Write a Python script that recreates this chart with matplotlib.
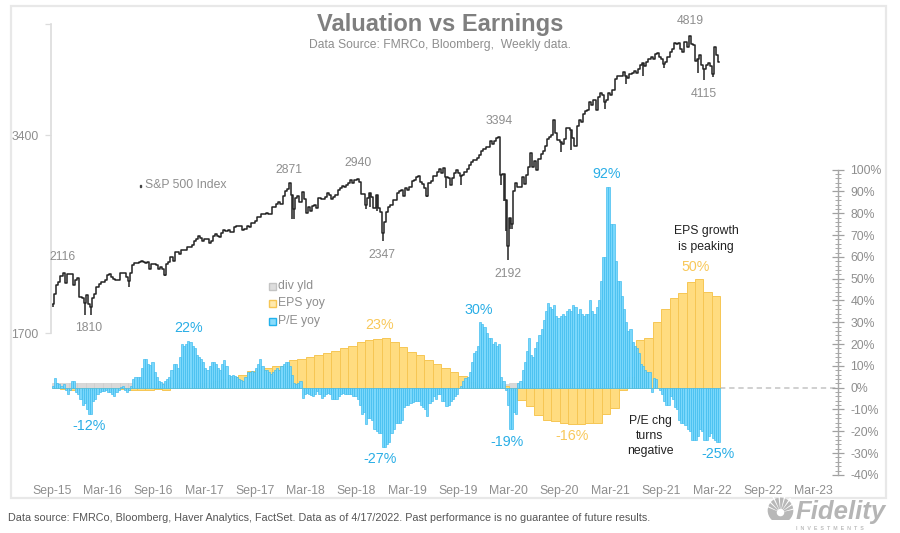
import numpy as np
import matplotlib
matplotlib.use("Agg")
import matplotlib.pyplot as plt
from matplotlib.patches import Rectangle, Circle, Wedge
from matplotlib.ticker import FixedLocator, FixedFormatter, NullFormatter, FuncFormatter

plt.rcParams['font.family'] = ['Liberation Sans', 'DejaVu Sans']

W, H = 900, 533
x_labels = ['Sep-15','Mar-16','Sep-16','Mar-17','Sep-17','Mar-18','Sep-18','Mar-19',
            'Sep-19','Mar-20','Sep-20','Mar-21','Sep-21','Mar-22','Sep-22','Mar-23']

# weekly S&P 500 level
sp500 = [1880,1950,2010,2030, 2075,2100,2025,2090, 2090,2090,2010,2050, 2060,1925,1920,1890,
         1940,1880,1865,1920, 1950,2000,2020,2035, 2035,2050,2080,2090, 2065,2055,2045,2050,
         2095,2100,2095,2070, 2037,2100,2160,2175, 2173,2180,2185,2180, 2170,2180,2125,2165,
         2165,2155,2130,2140, 2125,2085,2165,2180, 2215,2190,2260,2260, 2245,2275,2275,2270,
         2295,2295,2315,2350, 2365,2385,2370,2345, 2365,2360,2330,2350, 2385,2400,2390,2380,
         2415,2440,2430,2435, 2425,2425,2460,2470, 2470,2475,2440,2445, 2475,2465,2500,2500,
         2520,2550,2555,2575, 2580,2585,2580,2580, 2640,2640,2675,2685, 2675,2745,2790,2810,
         2870,2760,2620,2730, 2745,2690,2785,2715, 2590,2640,2605,2655, 2665,2630,2725,2715,
         2720,2735,2780,2755, 2720,2735,2760,2800, 2820,2840,2835,2850, 2875,2900,2870,2905,
         2915,2885,2765,2770, 2660,2725,2780,2735, 2635,2760,2630,2600, 2415,2510,2595,2640,
         2665,2705,2710,2775, 2790,2800,2745,2820, 2800,2835,2890,2905, 2940,2945,2880,2860,
         2825,2750,2875,2890, 2950,2945,2990,3015, 2975,3025,2930,2920, 2850,2925,2980,3005,
         2980,2950,2960,2985, 3020,3065,3095,3120, 3110,3140,3170,3220, 3240,3255,3265,3330,
         3295,3325,3370,3380, 2955,2970,2710,2305, 2540,2490,2790,2875, 2835,2830,2930,2865,
         2955,3040,3195,3040, 3100,3010,3130,3185, 3215,3270,3350,3375, 3400,3580,3425,3340,
         3320,3300,3350,3480, 3480,3465,3370,3270, 3510,3585,3555,3665, 3700,3710,3820,3770,
         3840,3715,3890,3935, 3905,3810,3840,3940, 3915,3975,4130,4185, 4185,4180,4235,4175,
         4155,4205,4230,4250, 4225,4280,4350,4370, 4330,4395,4435,4470, 4440,4510,4535,4460,
         4440,4355,4390,4470, 4545,4600,4700,4680, 4700,4595,4540,4710, 4620,4800,4675,4660,
         4400,4430,4500,4350, 4290,4350,4380,4330, 4210,4620,4500,4392]
# weekly lows that stick out below the close
sp_dip_idx = [0, 15, 18, 36, 53, 113, 114, 148, 150, 153, 156, 177, 186, 193, 212, 213, 214, 215, 216, 217,
              240, 245, 261, 271, 279, 289, 305, 308, 312]
sp_dip_low = [1865, 1812, 1810, 1995, 2075, 2530, 2530, 2620, 2640, 2605, 2347, 2740, 2820, 2850, 2855, 2700, 2430, 2192,
              2450, 2450, 3200, 3230, 3720, 4060, 4180, 4300, 4222, 4115, 4160]

# weekly P/E yoy (%)
pe_yoy = [1,4.5,2,1.5, 1,1.5,-1,-3, -1,3,3,-2, -3,-5,-8,-7, -10,-12,-12,-6, -5,-3,-2,-1.5,
          -1.5,-1,-2,-2, -3,-4,-2,-1, 0.5,1,-1,-2, -1,1,4,5, 5,5,9,13, 13,11,10.5,12,
          7,5,3,2.5, 1.5,3,4,5, 8,11,11,9, 14,20,19,20, 21.5,21,19,18, 15,14,13,12,
          9,8,10,12, 12,11,9,8, 11,12.5,10,6, 5.5,6,5.5,5, 4,3.5,3,5, 7,7,7.5,7,
          9,11,13,10, 8,8,7,6.5, 7,8,9,8, 10,11,12,12, 10,6,2,1.5, 2,3,-4.5,-3,
          -2.5,-3,-3.5,-4, -3,-1.5,-3,-4.5, -4,-3,-2.5,-3, -5,-5,-5,-4, -3,-2.5,-3,-3, -3,-3,-4,-4,
          -5,-8,-12,-11, -16.5,-14,-14,-15, -19,-20,-21,-21, -27,-27,-26,-25, -21,-19,-16,-16, -16,-15,-9,-8,
          -8,-7,-6.5,-6, -6,-6,-8,-9, -10,-13,-7,-6, -4,-5,-3,-3, -6,-6,-8.5,-8, -6,-5,-4,-3,
          0,1,3,4.5, 5,7,12,16, 17,19,30,29, 28,25,23,23, 20,21,19,20, 5,3,-1,-8,
          -19,-19,-11,-12, 2,3,8,12, 17,23,15,14, 18,21,24,27, 31,35,39,37, 36,38,33,32,
          33,34,33,35, 36,35,38,37, 34,36,34,33, 34,34,40,35, 34,37,40,49, 60,60,92,92,
          75,75,58,49, 49,42,36,30, 26,27,21,19, 18,16,11,10, 8,7,7,-2, 4.5,4,0,-1,
          -3,-6,-8,-8, -4,-5,-9,-10, -15,-16,-16,-17, -19,-20,-24,-24, -24,-22,-19,-20, -24,-24,-22,-21, -23,-24,-25,-25]

# monthly EPS yoy (%)
eps_yoy = [0,-0.5,-1,-1,-1,-0.5,-0.5,-0.5,-0.5,-1,-1,-1,
           -0.5,-1,0,0.5,0.5,1,2,3,4,5,6,7.5,
           8,9,10,10,12.5,13,14,15,16,17,18,19,
           21,22,22.5,23,21,18.5,16.5,15,12.5,10.7,9,7,
           5.5,2.5,1,0.5,0.5,1,-1,-5.5,-8.5,-12.5,-15,-15.5,
           -16,-16.5,-16.5,-16,-16,-12,-9.5,-1,5,22,23,30,
           36,41,43.5,48.5,50,44,42]

# monthly dividend yield (%)
div_yld = [2.1,2.1,2.1,2.2,2.2,2.3,2.2,2.1,2.1,2.1,2.1,2.1,
           2.1,2.1,2.0,2.0,2.0,2.0,1.9,1.9,1.9,1.9,1.9,1.9,
           1.9,1.8,1.8,1.8,1.7,1.8,1.9,1.9,1.9,1.9,1.9,1.9,
           1.8,1.9,1.9,2.1,2.0,1.9,1.9,1.8,1.9,1.9,1.9,1.9,
           1.9,1.9,1.8,1.8,1.8,1.8,2.2,2.0,1.9,1.8,1.7,1.7,
           1.7,1.6,1.6,1.5,1.5,1.5,1.4,1.4,1.4,1.3,1.3,1.3,
           1.3,1.3,1.3,1.3,1.3,1.3,1.3]

GRAY = '#8e8e8e'
BLUE = '#2aaee6'
YEL = '#f8c85a'

fig = plt.figure(figsize=(W/100, H/100), dpi=100, facecolor='white')
def fx(x): return x/W
def fy(y): return 1-y/H
def T(x, y, s, **k):
    k.setdefault('ha', 'center'); k.setdefault('va', 'center')
    k.setdefault('zorder', 6)
    fig.text(fx(x), fy(y), s, **k)

# frame
fig.add_artist(Rectangle((fx(11), fy(498)), fx(874.5), (498-5.5)/H, transform=fig.transFigure,
                         fill=False, ec='#e8e8e8', lw=1.6, zorder=0))

left, right, top, bottom = 51, 838, 24, 475
rect = [fx(left), fy(bottom), fx(right-left), (bottom-top)/H]

# percent panel
ax2 = fig.add_axes(rect, zorder=1)
ax2.patch.set_alpha(0)
ax2.set_xlim((left-52)/8.46, (right-52)/8.46)
ax2.set_ylim(-40.05, (387.7-top)/2.18)
mx = np.arange(len(eps_yoy)) + 0.5
wx = np.arange(len(pe_yoy))*0.25 + 0.125
ax2.bar(mx, div_yld, width=1.0, color='#d9d9d9', edgecolor='#c8c8c8', lw=0.4, zorder=1)
ax2.bar(mx, eps_yoy, width=1.0, color='#ffdc80', edgecolor='#f6c654', lw=0.7, zorder=2)
ax2.bar(wx, pe_yoy, width=0.25, color='#7ad7fb', edgecolor='#38baee', lw=0.45, zorder=3)
ax2.plot([len(eps_yoy), ax2.get_xlim()[1]], [0, 0], color='#c4c4c4', lw=1.1, ls=(0, (3.5, 2.5)), zorder=1)

for s in ['top', 'left', 'bottom']:
    ax2.spines[s].set_visible(False)
ax2.spines['right'].set_color('#a8a8a8')
ax2.spines['right'].set_linewidth(1.0)
ax2.spines['right'].set_bounds(-40, 100)
ax2.yaxis.tick_right()
ax2.yaxis.set_major_locator(FixedLocator(np.arange(-40, 101, 10)))
ax2.yaxis.set_minor_locator(FixedLocator(np.arange(-40, 101, 2)))
ax2.yaxis.set_major_formatter(FuncFormatter(lambda v, p: f'{int(round(v))}%'))
ax2.yaxis.set_minor_formatter(NullFormatter())
ax2.tick_params(axis='y', which='major', direction='inout', length=8, width=0.9, color='#a0a0a0',
                labelcolor=GRAY, labelsize=8.8, pad=5)
ax2.tick_params(axis='y', which='minor', direction='inout', length=4, width=0.7, color='#a8a8a8')
ax2.set_xticks(np.arange(len(x_labels))*6)
ax2.set_xticklabels(x_labels)
ax2.tick_params(axis='x', length=0, labelcolor=GRAY, labelsize=8.8, pad=7)

# S&P panel
ax = fig.add_axes(rect, zorder=2)
ax.patch.set_alpha(0)
ax.set_xlim(ax2.get_xlim())
ax.set_yscale('log', base=2)
ax.set_ylim(1700*2**((333-bottom)/198), 1700*2**((333-top)/198))
sx = np.arange(len(sp500))*0.25 + 0.125
ax.step(sx, sp500, where='mid', color='#222222', lw=1.1, zorder=3)
dx = [sx[i] for i in sp_dip_idx]
dh = [sp500[i] for i in sp_dip_idx]
ax.vlines(dx, sp_dip_low, dh, color='#222222', lw=1.1, zorder=3)
for s in ['top', 'right', 'bottom']:
    ax.spines[s].set_visible(False)
ax.spines['left'].set_color('#dcdcdc')
ax.spines['left'].set_linewidth(1.2)
ax.spines['left'].set_bounds(1700, ax.get_ylim()[1])
ax.yaxis.set_major_locator(FixedLocator([1700, 3400, ax.get_ylim()[1]]))
ax.yaxis.set_major_formatter(FixedFormatter(['1700', '3400', '']))
ax.yaxis.set_minor_locator(FixedLocator([]))
ax.yaxis.set_minor_formatter(NullFormatter())
ax.tick_params(axis='y', length=4, width=0.9, color='#dcdcdc', labelcolor=GRAY, labelsize=8.8, pad=5)
ax.set_xticks([])

# titles
T(440, 24, 'Valuation vs Earnings', color='#7f7f7f', fontsize=17, fontweight='bold')
T(440, 45, 'Data Source: FMRCo, Bloomberg,  Weekly data.', color=GRAY, fontsize=8.7)

# level labels
for x, y, s in [(690,21,'4819'),(704,94,'4115'),(499,121,'3394'),(358,163,'2940'),(289,170,'2871'),
                (382,255,'2347'),(508,274,'2192'),(62,257,'2116'),(89,328,'1810')]:
    T(x, y, s, color=GRAY, fontsize=8.8)
T(145, 185.5, 'S&P 500 Index', color=GRAY, fontsize=8.8, ha='left')
fig.add_artist(Rectangle((fx(139.5), fy(186.5)), fx(1.5), 1.5/H, transform=fig.transFigure, color='#444444', zorder=6))

# legend
for y, s, fc, ec in [(286,'div yld','#dddddd','#c4c4c4'),(303,'EPS yoy','#ffe9ae','#f6c654'),(321,'P/E yoy','#8adcfb','#22b2ec')]:
    fig.add_artist(Rectangle((fx(269), fy(y+3.5)), fx(7), 7/H, transform=fig.transFigure, fc=fc, ec=ec, lw=1.0, zorder=6))
    T(278, y, s, color=GRAY, fontsize=8.8, ha='left')

# percent labels
for x, y, s in [(89,426,'-12%'),(189,328,'22%'),(479,310,'30%'),(607,174,'92%'),(380,459,'-27%'),(507,442,'-19%'),(718,454,'-25%')]:
    T(x, y, s, color=BLUE, fontsize=10.3)
for x, y, s in [(380,325,'23%'),(572,436,'-16%'),(696,267,'50%')]:
    T(x, y, s, color=YEL, fontsize=10.3)
T(706, 239, 'EPS growth\nis peaking', color='#222222', fontsize=8.8, linespacing=1.35)
T(650, 436, 'P/E chg\nturns\nnegative', color='#222222', fontsize=8.8, linespacing=1.35)

# footer
T(8, 518, 'Data source: FMRCo, Bloomberg, Haver Analytics, FactSet. Data as of 4/17/2022. Past performance is no guarantee of future results.',
  color='#555555', fontsize=7.75, ha='left')

# logo
T(796, 519, 'Fidelity', color='#b5b5b5', fontsize=18.5, fontweight='bold', style='italic', ha='left', va='baseline')
T(796, 528, 'I  N  V  E  S  T  M  E  N  T  S', color='#bdbdbd', fontsize=3.8, fontweight='bold', ha='left')
lax = fig.add_axes([fx(767), fy(524), fx(27), 27/H], zorder=3)
lax.set_xlim(-1, 1); lax.set_ylim(-1, 1); lax.axis('off')
lax.add_patch(Circle((0, 0), 0.95, fc='#b8b8b8', ec='none'))
for ang in np.arange(15, 170, 20):
    lax.add_patch(Wedge((0, -0.15), 1.3, ang-2.5, ang+2.5, fc='white', ec='none'))
lax.add_patch(Circle((0, -0.15), 0.28, fc='white', ec='none'))
lax.add_patch(Rectangle((-1, -1), 2, 0.3, fc='white', ec='none'))

fig.savefig('out.png', dpi=100)
print(len(sp500), len(pe_yoy), len(eps_yoy), len(div_yld))
